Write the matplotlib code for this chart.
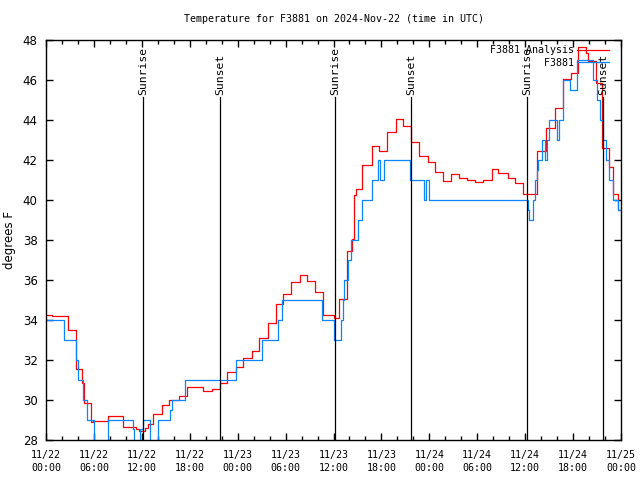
import numpy as np
import pandas as pd
import matplotlib
matplotlib.use("Agg")
import matplotlib.pyplot as plt
import matplotlib.dates as mdates

# hours since 2024-11-22 00:00 UTC and temperatures (deg F)
t0 = pd.Timestamp("2024-11-22 00:00")

analysis_hours = [0.0, 0.75, 2.72, 3.72, 4.47, 4.76, 5.63, 5.92, 7.8, 9.68, 11.27, 11.68,
                  12.4, 12.81, 13.44, 14.49, 15.4, 16.6, 17.62, 19.66, 20.75, 21.79, 22.63,
                  23.79, 24.67, 25.76, 26.67, 27.76, 28.8, 29.68, 30.68, 31.81, 32.68, 33.68,
                  34.65, 36.05, 36.73, 37.65, 37.73, 38.28, 38.57, 38.78, 39.61, 40.78, 41.7,
                  42.76, 43.79, 44.7, 45.67, 46.71, 47.8, 48.71, 49.71, 50.71, 51.72, 52.68,
                  53.72, 54.72, 55.81, 56.6, 57.81, 58.73, 59.77, 61.52, 62.61, 63.74, 64.7,
                  65.7, 66.65, 67.62, 67.83, 68.87, 69.58, 70.54, 70.96, 71.66, 72.0]
analysis_temp = [34.25, 34.2, 33.5, 31.55, 30.85, 29.85, 28.9, 28.95, 29.2, 28.65, 28.55, 28.45,
                 28.6, 28.8, 29.3, 29.75, 30.0, 30.2, 30.65, 30.45, 30.55, 30.85, 31.4,
                 31.65, 32.1, 32.45, 33.1, 33.85, 34.8, 35.3, 35.9, 36.25, 35.95, 35.4,
                 34.25, 34.1, 35.05, 36.2, 37.45, 38.05, 40.25, 40.55, 41.75, 42.7, 42.45,
                 43.4, 44.05, 43.7, 42.9, 42.2, 41.9, 41.4, 40.95, 41.3, 41.1, 41.0,
                 40.9, 41.0, 41.55, 41.35, 41.1, 40.85, 40.3, 42.45, 43.6, 44.6, 46.05,
                 46.35, 47.65, 47.35, 46.95, 45.85, 42.6, 41.65, 40.3, 39.5, 39.5]

obs_hours = [0.0, 2.29, 3.76, 4.04, 4.6, 5.1, 6.05, 7.73, 10.86, 11.06, 11.77, 12.18,
             13.02, 13.99, 15.53, 15.74, 17.41, 23.75, 27.05, 29.01, 29.55, 34.52, 36.06,
             36.9, 37.23, 37.35, 37.85, 38.15, 39.11, 39.61, 40.86, 41.61, 41.82, 42.32,
             45.58, 47.33, 47.55, 47.96, 60.32, 60.48, 60.94, 61.23, 61.44, 61.65, 62.1,
             62.5, 62.75, 63.02, 64.0, 64.24, 64.78, 65.61, 66.45, 68.5, 69.03, 69.37,
             69.75, 70.12, 70.5, 71.0, 71.66, 72.0]
obs_temp = [34.0, 33.0, 32.0, 31.0, 30.0, 29.0, 27.5, 29.0, 28.55, 27.5, 28.55, 29.0,
            27.5, 29.0, 29.5, 30.0, 31.0, 32.0, 33.0, 34.0, 35.0, 34.0, 33.0,
            34.0, 35.0, 36.0, 37.0, 38.0, 39.0, 40.0, 41.0, 42.0, 41.0, 42.0,
            41.0, 40.0, 41.0, 40.0, 39.5, 39.0, 40.0, 41.0, 41.5, 42.0, 43.0,
            42.0, 43.0, 44.0, 43.0, 44.0, 46.0, 45.5, 47.0, 46.0, 45.0, 44.0,
            43.0, 42.0, 41.0, 40.0, 39.5, 39.5]

sunrise_hours = [12.15, 36.19, 60.22]
sunset_hours = [21.78, 45.72, 69.75]

mono = "DejaVu Sans Mono"
fs = 7.2

t_an = t0 + pd.to_timedelta(analysis_hours, unit="h")
t_ob = t0 + pd.to_timedelta(obs_hours, unit="h")

fig = plt.figure(figsize=(6.4, 4.8), dpi=100)
ax = fig.add_axes([46 / 640, 40 / 480, 575 / 640, 400 / 480])

ax.plot(t_an, analysis_temp, drawstyle="steps-post", color="#ff0000", lw=0.9,
        label="F3881 Analysis")
ax.plot(t_ob, obs_temp, drawstyle="steps-post", color="#0a84ff", lw=0.9,
        label="F3881".rjust(len("F3881 Analysis")))

for hrs, name in [(sunrise_hours, "Sunrise"), (sunset_hours, "Sunset")]:
    for h in hrs:
        x = t0 + pd.Timedelta(hours=h)
        ax.plot([x, x], [28, 45.15], color="black", lw=0.9)
        ax.text(x, 45.25, name, rotation=90, ha="center", va="bottom",
                family=mono, fontsize=8.2)

ax.set_xlim(t0, t0 + pd.Timedelta(hours=72))
ax.set_ylim(28, 48)
ax.set_yticks(np.arange(28, 49, 2))
ax.xaxis.set_major_locator(mdates.HourLocator(byhour=[0, 6, 12, 18]))
ax.xaxis.set_minor_locator(mdates.HourLocator(byhour=range(0, 24, 2)))
ax.xaxis.set_major_formatter(mdates.DateFormatter("%m/%d\n%H:%M"))
ax.tick_params(which="both", direction="in", top=True, right=True, width=1.0)
ax.tick_params(which="major", length=5)
ax.tick_params(which="minor", length=3)
ax.tick_params(axis="y", labelsize=8.5, pad=6)
ax.tick_params(axis="x", pad=7)
for lbl in ax.get_xticklabels():
    lbl.set_family(mono)
    lbl.set_fontsize(fs)
    lbl.set_linespacing(1.35)
for s in ax.spines.values():
    s.set_linewidth(1.0)

ax.set_ylabel("degrees F", fontsize=8.5, labelpad=5)
fig.text(333.5 / 640, 1 - 19 / 480, "Temperature for F3881 on 2024-Nov-22 (time in UTC)",
         ha="center", va="center", family=mono, fontsize=fs)

leg = ax.legend(loc="upper right", frameon=False, markerfirst=False,
                prop={"family": mono, "size": fs}, handlelength=3.2,
                handletextpad=0.35, labelspacing=0.25, borderaxespad=0.3,
                bbox_to_anchor=(1 - 5 / 575, 1 + 2 / 400))

fig.savefig("out.png", dpi=100)
